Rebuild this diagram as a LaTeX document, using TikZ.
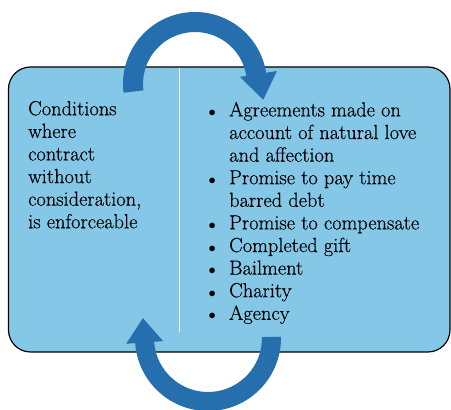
\documentclass[tikz,border=0pt]{standalone}
\usepackage{fontspec}
\setmainfont{Latin Modern Roman}[FakeBold=0.4]
\usepackage{xcolor}
\definecolor{Box-fill}{RGB}{133,199,231}
\definecolor{Arrow-blue}{RGB}{37,111,175}
\usetikzlibrary{positioning,calc}
\newcommand{\listdot}{\makebox[19.5pt][l]{\hspace*{-1pt}$\scriptstyle\bullet$}}
\newcommand{\listindent}{\hspace*{19.5pt}}

\begin{document}
\begin{tikzpicture} [ % 先定义样式
            x=1pt, y=1pt, font=\fontsize{20.4}{22.6}\selectfont,
            box/.style = {draw=black, line width=1.2pt, fill=Box-fill, rounded corners=22pt},
            divider/.style = {draw=white, line width=1pt},
            plain/.style = {inner sep=0pt, align=left, text=black},
            curl/.style = {fill=Arrow-blue, draw=none}
        ]
        \useasboundingbox (0,0) rectangle (451,410);

        % 宏
        \pgfmathsetmacro{\ro}{72}; % 上弧外半径
        \pgfmathsetmacro{\ri}{52}; % 上弧内半径
        \pgfmathsetmacro{\so}{73}; % 下弧外半径
        \pgfmathsetmacro{\si}{54}; % 下弧内半径

        % 方框
        \draw [box] (8.5,58) rectangle (450,343);
        \draw [divider] (179,342) -- (179,78);

        % 文字
        \node [plain, anchor=north west] (cond) at (28,309.2) {Conditions\\where\\contract\\without\\consideration,\\is enforceable};
        \node [plain, anchor=north west] (list) at (209.5,308.2) {\listdot Agreements made on\\\listindent account of natural love\\\listindent and affection\\\listdot Promise to pay time\\\listindent barred debt\\\listdot Promise to compensate\\\listdot Completed gift\\\listdot Bailment\\\listdot Charity\\\listdot Agency};

        % 上 箭头
        \path (195,326) coordinate (c1);
        \path (c1) ++(187:\ro pt) coordinate (c11);
        \path (c1) ++(9:83pt) coordinate (c12);
        \path (c1) ++(-13:70pt) coordinate (c13);
        \path (c1) ++(9:45.5pt) coordinate (c14);
        \path (c1) ++(9:\ri pt) coordinate (c15);
        \fill [curl] (c11) arc [start angle=187, end angle=9, radius=\ro pt] -- (c12) -- (c13) -- (c14) -- (c15) arc [start angle=9, end angle=187, radius=\ri pt] -- cycle;

        % 下 箭头
        \path (208,72) coordinate (c2);
        \path (c2) ++(1:\so pt) coordinate (c21);
        \path (c2) ++(-176:82pt) coordinate (c22);
        \path (c2) ++(163:68pt) coordinate (c23);
        \path (c2) ++(-176:45pt) coordinate (c24);
        \path (c2) ++(-176:\si pt) coordinate (c25);
        \fill [curl] (c21) arc [start angle=1, end angle=-176, radius=\so pt] -- (c22) -- (c23) -- (c24) -- (c25) arc [start angle=-176, end angle=1, radius=\si pt] -- cycle;

    \end{tikzpicture}
\end{document}
